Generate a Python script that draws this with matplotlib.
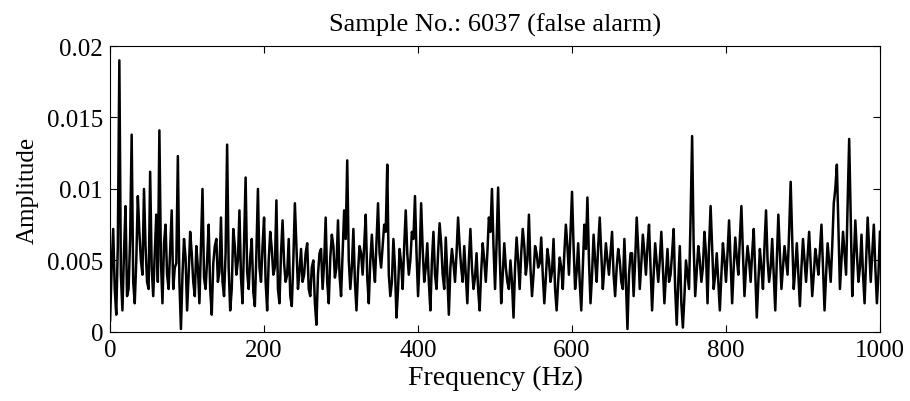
import numpy as np
import matplotlib.pyplot as plt

# amplitude spectrum: samples at 0, 4, 8, ... Hz
amp = [
    0.0008, 0.0072, 0.0012, 0.0190, 0.0015, 0.0088, 0.0030, 0.0138, 0.0020, 0.0095,
    0.0050, 0.0100, 0.0035, 0.0112, 0.0025, 0.0082, 0.0141, 0.0020, 0.0075, 0.0030,
    0.0085, 0.0045, 0.0123, 0.0002, 0.0065,
    0.0015, 0.0070, 0.0035, 0.0060, 0.0020, 0.0100, 0.0030, 0.0075, 0.0012, 0.0060,
    0.0035, 0.0080, 0.0025, 0.0131, 0.0015, 0.0072, 0.0040, 0.0085, 0.0020, 0.0108,
    0.0030, 0.0065, 0.0018, 0.0100, 0.0035,
    0.0080, 0.0015, 0.0070, 0.0040, 0.0092, 0.0020, 0.0078, 0.0035, 0.0065, 0.0018,
    0.0090, 0.0030, 0.0058, 0.0040, 0.0062, 0.0025, 0.0050, 0.0005, 0.0055, 0.0030,
    0.0080, 0.0020, 0.0068, 0.0038, 0.0078,
    0.0025, 0.0085, 0.0120, 0.0030, 0.0072, 0.0015, 0.0060, 0.0040, 0.0082, 0.0020,
    0.0068, 0.0035, 0.0090, 0.0045, 0.0075, 0.0117, 0.0025, 0.0065, 0.0010, 0.0058,
    0.0030, 0.0085, 0.0040, 0.0070, 0.0095,
    0.0025, 0.0090, 0.0035, 0.0062, 0.0015, 0.0070, 0.0030, 0.0076, 0.0040, 0.0066,
    0.0012, 0.0058, 0.0035, 0.0080, 0.0045, 0.0060, 0.0020, 0.0072, 0.0030, 0.0055,
    0.0015, 0.0062, 0.0035, 0.0080, 0.0100,
    0.0030, 0.0101, 0.0020, 0.0062, 0.0035, 0.0050, 0.0010, 0.0066, 0.0030, 0.0072,
    0.0040, 0.0082, 0.0025, 0.0060, 0.0045, 0.0066, 0.0020, 0.0058, 0.0035, 0.0065,
    0.0015, 0.0052, 0.0030, 0.0075, 0.0040,
    0.0098, 0.0030, 0.0062, 0.0015, 0.0075, 0.0094, 0.0020, 0.0068, 0.0035, 0.0080,
    0.0030, 0.0062, 0.0040, 0.0070, 0.0025, 0.0058, 0.0035, 0.0065, 0.0002, 0.0055,
    0.0025, 0.0080, 0.0030, 0.0068, 0.0040,
    0.0075, 0.0015, 0.0062, 0.0035, 0.0070, 0.0020, 0.0058, 0.0040, 0.0072, 0.0005,
    0.0060, 0.0003, 0.0050, 0.0030, 0.0137, 0.0025, 0.0060, 0.0035, 0.0070, 0.0020,
    0.0088, 0.0030, 0.0055, 0.0015, 0.0062,
    0.0035, 0.0078, 0.0020, 0.0066, 0.0040, 0.0088, 0.0025, 0.0060, 0.0035, 0.0072,
    0.0010, 0.0058, 0.0030, 0.0085, 0.0035, 0.0065, 0.0015, 0.0082, 0.0030, 0.0060,
    0.0040, 0.0105, 0.0030, 0.0062, 0.0018,
    0.0065, 0.0035, 0.0070, 0.0025, 0.0058, 0.0040, 0.0075, 0.0015, 0.0062, 0.0035,
    0.0090, 0.0117, 0.0030, 0.0070, 0.0040, 0.0135, 0.0025, 0.0078, 0.0035, 0.0068,
    0.0020, 0.0080, 0.0035, 0.0075, 0.0020, 0.0070,
]

# the samples in between: 2, 6, 10, ... Hz
amp_mid = [
    0.0045, 0.0030, 0.0060, 0.0040, 0.0055, 0.0025, 0.0065, 0.0035, 0.0050, 0.0070,
    0.0040, 0.0060, 0.0030, 0.0045, 0.0055, 0.0035, 0.0050, 0.0062, 0.0040, 0.0058,
    0.0030, 0.0048, 0.0035, 0.0040, 0.0052,
    0.0040, 0.0055, 0.0025, 0.0045, 0.0060, 0.0038, 0.0050, 0.0030, 0.0048, 0.0065,
    0.0042, 0.0035, 0.0055, 0.0045, 0.0030, 0.0060, 0.0050, 0.0038, 0.0062, 0.0042,
    0.0052, 0.0028, 0.0055, 0.0045, 0.0060,
    0.0035, 0.0050, 0.0058, 0.0045, 0.0030, 0.0055, 0.0048, 0.0040, 0.0025, 0.0050,
    0.0060, 0.0042, 0.0035, 0.0055, 0.0030, 0.0045, 0.0020, 0.0040, 0.0058, 0.0048,
    0.0035, 0.0052, 0.0060, 0.0045, 0.0040,
    0.0055, 0.0065, 0.0050, 0.0045, 0.0035, 0.0042, 0.0055, 0.0060, 0.0038, 0.0050,
    0.0048, 0.0062, 0.0055, 0.0060, 0.0070, 0.0040, 0.0035, 0.0045, 0.0030, 0.0048,
    0.0060, 0.0055, 0.0050, 0.0065, 0.0055,
    0.0050, 0.0058, 0.0045, 0.0035, 0.0050, 0.0040, 0.0055, 0.0062, 0.0030, 0.0040,
    0.0045, 0.0048, 0.0055, 0.0060, 0.0035, 0.0040, 0.0050, 0.0045, 0.0038, 0.0030,
    0.0042, 0.0050, 0.0055, 0.0070, 0.0060,
    0.0062, 0.0055, 0.0040, 0.0045, 0.0030, 0.0035, 0.0045, 0.0050, 0.0055, 0.0060,
    0.0050, 0.0045, 0.0040, 0.0055, 0.0048, 0.0040, 0.0038, 0.0050, 0.0042, 0.0030,
    0.0035, 0.0045, 0.0055, 0.0060, 0.0070,
    0.0060, 0.0042, 0.0035, 0.0045, 0.0058, 0.0050, 0.0040, 0.0050, 0.0060, 0.0055,
    0.0045, 0.0050, 0.0055, 0.0040, 0.0045, 0.0050, 0.0030, 0.0035, 0.0040, 0.0055,
    0.0050, 0.0058, 0.0048, 0.0055, 0.0060,
    0.0045, 0.0040, 0.0048, 0.0050, 0.0045, 0.0040, 0.0035, 0.0055, 0.0030, 0.0035,
    0.0020, 0.0025, 0.0040, 0.0080, 0.0060, 0.0042, 0.0050, 0.0045, 0.0055, 0.0060,
    0.0058, 0.0040, 0.0035, 0.0040, 0.0050,
    0.0055, 0.0050, 0.0045, 0.0052, 0.0065, 0.0055, 0.0045, 0.0050, 0.0055, 0.0040,
    0.0035, 0.0045, 0.0060, 0.0050, 0.0045, 0.0040, 0.0050, 0.0055, 0.0045, 0.0050,
    0.0070, 0.0065, 0.0045, 0.0040, 0.0045,
    0.0050, 0.0052, 0.0048, 0.0040, 0.0050, 0.0058, 0.0045, 0.0040, 0.0048, 0.0060,
    0.0100, 0.0075, 0.0050, 0.0055, 0.0090, 0.0080, 0.0050, 0.0055, 0.0045, 0.0040,
    0.0050, 0.0058, 0.0055, 0.0045, 0.0040,
]

spectrum = np.empty(len(amp) + len(amp_mid))
spectrum[0::2] = amp
spectrum[1::2] = amp_mid
freq = np.arange(len(spectrum)) * 2

xticks = [0, 200, 400, 600, 800, 1000]
yticks = [0, 0.005, 0.01, 0.015, 0.02]
ytick_labels = ['0', '0.005', '0.01', '0.015', '0.02']

plt.rcParams['font.family'] = ['Liberation Serif', 'DejaVu Serif']

fig = plt.figure(figsize=(9.1, 4.02), dpi=100)
ax = fig.add_axes([0.121, 0.172, 0.846, 0.711])

ax.plot(freq, spectrum, color='black', linewidth=1.8)

ax.set_xlim(0, 1000)
ax.set_ylim(0, 0.02)
ax.set_xticks(xticks)
ax.set_xticklabels([str(t) for t in xticks])
ax.set_yticks(yticks)
ax.set_yticklabels(ytick_labels)
ax.tick_params(direction='in', top=True, right=True, labelsize=18, length=5, pad=5)

ax.set_xlabel('Frequency (Hz)', fontsize=20, labelpad=3)
ax.set_ylabel('Amplitude', fontsize=18, labelpad=6)
ax.set_title('Sample No.: 6037 (false alarm)', fontsize=19, pad=11)

fig.savefig('out.png', dpi=100)
